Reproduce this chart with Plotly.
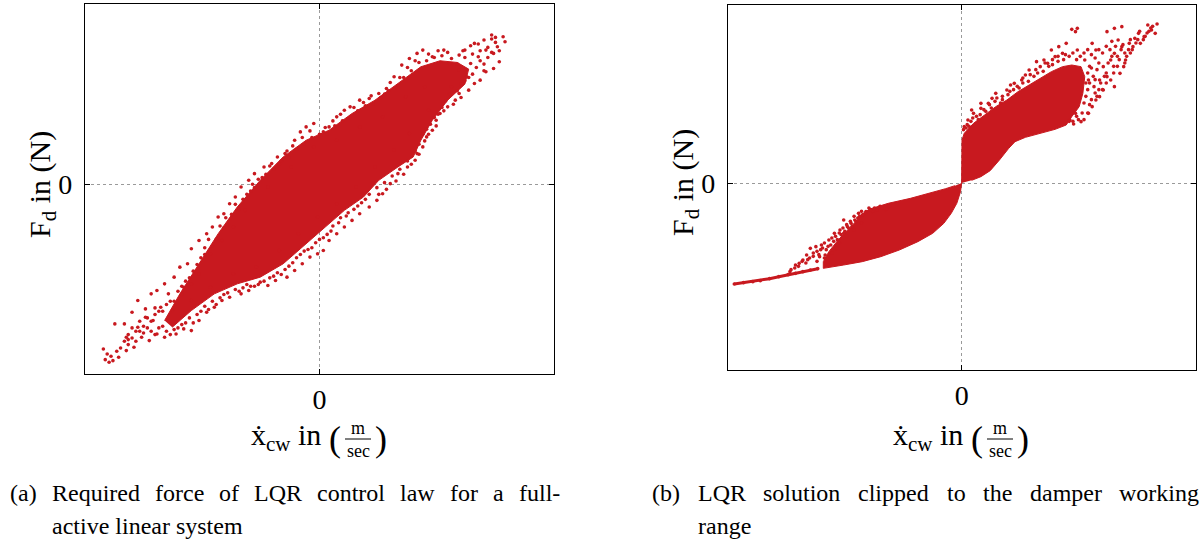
import plotly.graph_objects as go

# ---------------------------------------------------------------------------
# Data: damper velocity x_cw (m/s) against damper force F_d (N)
# ---------------------------------------------------------------------------

# (a) full-active LQR force: dense core outline of the point cloud
lqr_core_v = [-0.405, -0.365, -0.315, -0.265, -0.215, -0.155, -0.095, -0.035, 0.025, 0.085,
              0.145, 0.205, 0.265, 0.315, 0.360, 0.390, 0.380, 0.335, 0.295, 0.265,
              0.245, 0.205, 0.155, 0.115, 0.065, 0.015, -0.035, -0.095, -0.155, -0.215,
              -0.275, -0.335, -0.385]
lqr_core_f = [-816, -656, -476, -296, -136, 24, 164, 264, 324, 424,
              504, 604, 704, 740, 730, 690, 600, 504, 384, 264,
              164, 104, 24, -76, -156, -256, -356, -476, -556, -596,
              -656, -756, -856]

# (a) individual samples around the core
lqr_pts_v = [-0.565, -0.550, -0.535, -0.510, -0.490, -0.475, -0.455, -0.440, -0.425, -0.405,
             -0.395, -0.380, -0.365, -0.345, -0.335, -0.315, -0.295, -0.280, -0.265, -0.250,
             -0.235, -0.220, -0.205, -0.185, -0.170, -0.145, -0.125, -0.110, -0.090, -0.065,
             -0.050, -0.035, -0.015, 0.010, 0.025, 0.045, 0.065, 0.080, 0.105, 0.130,
             0.155, 0.175, 0.195, 0.215, 0.235, 0.255, 0.270, 0.295, 0.325, 0.345,
             0.365, 0.380, 0.405, 0.430, 0.450, 0.480, 0.485, 0.465, 0.455, 0.470,
             0.455, 0.435, 0.420, 0.405, 0.390, 0.365, 0.355, 0.335, 0.315, 0.305,
             0.295, 0.280, 0.270, 0.255, 0.250, 0.230, 0.205, 0.185, 0.165, 0.150,
             0.130, 0.105, 0.085, 0.065, 0.045, 0.025, 0.010, -0.005, -0.025, -0.045,
             -0.065, -0.085, -0.115, -0.135, -0.155, -0.185, -0.205, -0.235, -0.255, -0.275,
             -0.295, -0.315, -0.335, -0.355, -0.375, -0.405, -0.425, -0.445, -0.465, -0.485,
             -0.505, -0.525, -0.540, -0.555,
             -0.355, -0.335, -0.315, -0.285, -0.255, -0.225, -0.195, -0.135, -0.075, -0.015,
             0.045, 0.105, 0.165, 0.225, 0.275, 0.365, 0.395, 0.415, 0.435, 0.385,
             0.345, 0.285, 0.235, 0.195, 0.145, 0.095, 0.045, -0.005, -0.055, -0.105,
             -0.165, -0.225, -0.285, -0.335, -0.385, -0.435, -0.475, -0.505, -0.415, -0.455,
             -0.42, -0.40, -0.38, -0.36, -0.34, -0.33, -0.31, -0.30, -0.28, -0.27,
             -0.25, -0.24, -0.23, -0.21, -0.20, -0.18, -0.17, -0.16, -0.14, -0.12,
             -0.10, -0.08, -0.06, -0.04, -0.02, 0.00, 0.02, 0.04, 0.06, 0.08,
             0.10, 0.12, 0.14, 0.16, 0.18, 0.20, 0.22, 0.24, 0.26, 0.28,
             0.30, 0.32, 0.34, 0.36, 0.38, 0.40, 0.42, 0.44, 0.46, 0.47,
             0.44, 0.43, 0.41, 0.40, 0.38, 0.37, 0.36, 0.34, 0.33, 0.32,
             0.31, 0.30, 0.29, 0.28, 0.27, 0.26, 0.25, 0.23, 0.21, 0.19,
             0.17, 0.15, 0.13, 0.11, 0.09, 0.07, 0.05, 0.03, 0.01, -0.01,
             -0.03, -0.05, -0.07, -0.09, -0.11, -0.13, -0.16, -0.18, -0.20, -0.22,
             -0.24, -0.26, -0.28, -0.30, -0.32, -0.34, -0.36, -0.38, -0.40, -0.42,
             -0.44, -0.46, -0.48, -0.50, -0.52, -0.47, -0.49, -0.50, -0.45, -0.43,
             -0.50, -0.48, -0.46, -0.44, -0.43, -0.41, -0.39, -0.37, -0.36, -0.35,
             -0.32, -0.30, -0.29, -0.26, -0.245, -0.22, -0.19, -0.175, -0.15, -0.13,
             -0.105, -0.085, -0.07, -0.045, -0.025, 0.015, 0.035, 0.055, 0.09, 0.115,
             0.135, 0.17, 0.185, 0.21, 0.23, 0.25, 0.285, 0.31, 0.335, 0.375,
             0.395, 0.415, 0.45, 0.46,
             0.45, 0.43, 0.42, 0.39, 0.37, 0.35, 0.325, 0.305, 0.285, 0.275,
             0.26, 0.24, 0.22, 0.20, 0.175, 0.155, 0.12, 0.10, 0.075, 0.055,
             0.035, 0.02, 0.00, -0.02, -0.04, -0.06, -0.08, -0.10, -0.12, -0.145,
             -0.17, -0.19, -0.21, -0.25, -0.27, -0.29, -0.31, -0.33, -0.35, -0.37,
             -0.39, -0.41, -0.43, -0.45, -0.47, -0.49, -0.51, -0.53, -0.545, -0.56]
lqr_pts_f = [-986, -1066, -836, -836, -766, -696, -746, -656, -636, -596,
             -656, -556, -496, -476, -386, -336, -296, -256, -196, -176,
             -116, -76, -16, 24, 64, 104, 124, 164, 184, 264,
             314, 344, 364, 314, 344, 404, 444, 464, 504, 514,
             544, 574, 644, 714, 754, 784, 804, 764, 804, 754,
             774, 804, 844, 864, 894, 884, 854, 824, 784, 734,
             694, 674, 624, 604, 564, 544, 504, 464, 424, 384,
             324, 284, 224, 184, 144, 104, 64, 4, -56, -96,
             -136, -176, -216, -256, -296, -336, -396, -416, -436, -476,
             -516, -556, -576, -606, -586, -636, -656, -676, -696, -736,
             -766, -816, -876, -866, -896, -916, -896, -936, -916, -976,
             -996, -1036, -1056, -1016,
             -616, -596, -536, -416, -336, -256, -156, -16, 104, 224,
             264, 344, 404, 524, 584, 684, 724, 764, 804, 644,
             584, 444, 304, 204, 104, -16, -116, -196, -296, -396,
             -496, -536, -616, -696, -756, -816, -856, -916, -736, -796,
             -760, -720, -700, -610, -560, -520, -440, -420, -370, -330,
             -260, -240, -180, -150, -90, -40, -20, 30, 60, 90,
             140, 160, 210, 240, 280, 300, 300, 350, 380, 400,
             440, 470, 480, 520, 560, 580, 640, 680, 730, 740,
             760, 770, 720, 720, 760, 780, 800, 820, 850, 800,
             760, 720, 700, 660, 620, 600, 560, 540, 500, 460,
             420, 400, 360, 330, 300, 240, 200, 140, 90, 50,
             10, -20, -60, -110, -150, -190, -230, -280, -320, -350,
             -390, -420, -470, -510, -530, -560, -600, -610, -620, -630,
             -650, -680, -700, -730, -780, -800, -840, -870, -880, -860,
             -880, -890, -940, -960, -980, -820, -860, -900, -800, -780,
             -930, -880, -850, -820, -740, -760, -700, -640, -660, -580,
             -480, -380, -330, -250, -200, -120, -60, 0, 40, 110,
             120, 200, 230, 280, 320, 340, 380, 420, 460, 490,
             530, 540, 610, 640, 700, 740, 780, 800, 790, 800,
             830, 840, 870, 880,
             790, 680, 740, 640, 520, 480, 440, 350, 300, 260,
             180, 120, 60, 20, -30, -60, -90, -130, -170, -200,
             -250, -300, -330, -380, -400, -440, -490, -540, -550, -580,
             -610, -600, -640, -660, -720, -750, -760, -830, -830, -860,
             -900, -850, -900, -860, -880, -920, -940, -1000, -1030, -1050]

# (b) clipped LQR force: saturated tail at large negative velocity
clip_tail_v = [-0.613, -0.588, -0.563, -0.543, -0.518, -0.493, -0.468, -0.448, -0.428, -0.408, -0.388]
clip_tail_f = [-606, -598, -592, -586, -574, -562, -550, -542, -532, -522, -514]

# (b) rebound lobe (negative velocity) outline
clip_neg_v = [0.0, -0.003, -0.013, -0.028, -0.048, -0.078, -0.118, -0.168, -0.218, -0.268,
              -0.318, -0.373, -0.373, -0.358, -0.333, -0.303, -0.273, -0.250, -0.198, -0.138,
              -0.078, -0.043, -0.018]
clip_neg_f = [0, -52, -122, -182, -242, -302, -352, -402, -442, -472,
              -492, -512, -472, -412, -342, -272, -202, -158, -122, -92,
              -58, -34, -16]

# (b) compression lobe (positive velocity) outline
clip_pos_v = [0.0, 0.0, 0.001, 0.007, 0.032, 0.062, 0.092, 0.122, 0.152, 0.182,
              0.212, 0.242, 0.272, 0.297, 0.322, 0.332, 0.327, 0.317, 0.297, 0.282,
              0.252, 0.212, 0.172, 0.144, 0.127, 0.102, 0.077, 0.052, 0.027]
clip_pos_f = [0, 138, 258, 298, 358, 408, 458, 498, 548, 588,
              628, 668, 698, 708, 698, 638, 538, 458, 398, 348,
              322, 298, 274, 248, 208, 138, 74, 38, 16]

# (b) individual samples around both lobes
clip_pts_v = [0.297, 0.307, 0.312, 0.392, 0.412, 0.432, 0.502, 0.527, 0.522, 0.492,
              0.467, 0.452, 0.432, 0.412, 0.437, 0.427, 0.402, 0.412, 0.382, 0.362,
              0.352, 0.342, 0.322, 0.302, 0.272, 0.262, 0.242, 0.222, 0.212, 0.182,
              0.162, 0.142, 0.122, 0.092, 0.072, 0.052, 0.032, 0.017, 0.007, 0.352,
              0.362, 0.332, 0.382, 0.392, 0.462, 0.482, 0.442, 0.372, 0.202, 0.282,
              0.312, 0.342, 0.357, 0.372, 0.422, 0.512, 0.477, 0.402, 0.307, 0.292,
              0.052, 0.027, 0.082, 0.132, 0.172, 0.232, 0.252,
              0.005, 0.015, 0.020, 0.030, 0.045, 0.050, 0.065, 0.080, 0.090, 0.105,
              0.110, 0.125, 0.140, 0.155, 0.165, 0.180, 0.195, 0.205, 0.220, 0.235,
              0.245, 0.260, 0.275, 0.290, 0.300, 0.310, 0.320, 0.330, 0.340, 0.350,
              0.360, 0.370, 0.350, 0.340, 0.355, 0.365, 0.345, 0.340, 0.335, 0.330,
              0.345, 0.360, 0.375, 0.390, 0.410, 0.420, 0.440, 0.450, 0.470, 0.490,
              0.500, 0.510, 0.480, 0.455, 0.415, 0.400, 0.380, 0.325, 0.310, 0.290,
              0.335, 0.345, 0.360, 0.370, 0.385, 0.395, 0.405, 0.425, 0.430, 0.445,
              0.460, 0.475, 0.495, 0.505, 0.515, 0.340, 0.330, 0.315, 0.300, 0.350,
              0.365, 0.380, 0.390, 0.410, 0.420, 0.440, 0.455, 0.435, 0.405, 0.390,
              0.370, 0.280, 0.260, 0.245, 0.225, 0.200, 0.185, 0.165, 0.150, 0.130,
              0.110, 0.095, 0.075, 0.060, 0.040, 0.025, 0.012,
              -0.463, -0.448, -0.428, -0.408, -0.393, -0.378, -0.358, -0.343, -0.328, -0.308,
              -0.288, -0.268, -0.258, -0.228, -0.203, -0.438, -0.368, -0.353, -0.318, -0.298,
              -0.278, -0.338, -0.383, -0.418, -0.318,
              -0.45, -0.44, -0.42, -0.41, -0.40, -0.39, -0.38, -0.37, -0.36, -0.35,
              -0.34, -0.33, -0.32, -0.31, -0.30, -0.29, -0.28, -0.27, -0.26, -0.25,
              -0.24, -0.22, -0.21, -0.35, -0.33, -0.31, -0.29, -0.27, -0.37, -0.39,
              -0.46, -0.43, -0.415, -0.40, -0.385, -0.375, -0.365, -0.345, -0.335, -0.325,
              -0.315, -0.305, -0.295, -0.285, -0.275, -0.265, -0.245, -0.235, -0.215, -0.195]
clip_pts_f = [922, 908, 928, 908, 928, 938, 948, 954, 898, 878,
              868, 838, 818, 778, 698, 658, 618, 578, 558, 498,
              458, 418, 368, 354, 778, 818, 798, 738, 698, 678,
              618, 598, 558, 538, 478, 448, 418, 378, 338, 838,
              798, 738, 698, 638, 818, 838, 738, 518, 728, 838,
              798, 618, 578, 618, 858, 918, 898, 738, 418, 378,
              478, 438, 508, 588, 648, 718, 758,
              320, 350, 340, 390, 380, 410, 430, 450, 490, 480,
              520, 530, 560, 570, 600, 610, 640, 660, 670, 700,
              710, 730, 740, 760, 780, 740, 760, 780, 800, 770,
              750, 720, 690, 660, 640, 680, 600, 560, 520, 480,
              470, 540, 600, 660, 700, 760, 780, 800, 840, 860,
              900, 930, 910, 860, 820, 800, 780, 420, 400, 370,
              600, 700, 620, 560, 640, 720, 760, 740, 800, 760,
              800, 860, 880, 910, 940, 420, 380, 380, 370, 500,
              520, 560, 600, 660, 700, 720, 780, 830, 850, 820,
              800, 770, 760, 740, 720, 680, 650, 630, 580, 550,
              500, 510, 470, 440, 400, 370, 330,
              -532, -492, -462, -392, -382, -372, -342, -302, -282, -262,
              -222, -192, -172, -162, -158, -482, -432, -372, -302, -242,
              -182, -392, -442, -432, -222,
              -510, -500, -480, -450, -420, -410, -400, -360, -380, -330,
              -320, -300, -270, -250, -230, -200, -210, -170, -180, -150,
              -170, -140, -150, -420, -360, -320, -280, -240, -450, -470,
              -520, -470, -460, -440, -430, -390, -400, -350, -340, -310,
              -290, -270, -260, -230, -200, -190, -160, -150, -150, -140]

zero_tick = [0]
zero_label = ["0"]

# ---------------------------------------------------------------------------
# Styling / layout helpers
# ---------------------------------------------------------------------------
W, H = 1204, 545
RED = "#C8191F"
SERIF = "Liberation Serif"


def px(x):
    return x / W


def py(y):
    return 1 - y / H


fig = go.Figure()


def solid(v, f, xa, ya):
    fig.add_trace(go.Scatter(x=v, y=f, mode="lines", fill="toself",
                             fillcolor=RED, line=dict(color=RED, width=1),
                             xaxis=xa, yaxis=ya, hoverinfo="skip", showlegend=False))


def dots(v, f, xa, ya):
    fig.add_trace(go.Scatter(x=v, y=f, mode="markers",
                             marker=dict(color=RED, size=3.6, line=dict(width=0)),
                             xaxis=xa, yaxis=ya, showlegend=False))


solid(lqr_core_v, lqr_core_f, "x", "y")
dots(lqr_pts_v, lqr_pts_f, "x", "y")

fig.add_trace(go.Scatter(x=clip_tail_v, y=clip_tail_f, mode="lines+markers",
                         line=dict(color=RED, width=3), marker=dict(color=RED, size=3.6),
                         xaxis="x2", yaxis="y2", showlegend=False))
solid(clip_neg_v, clip_neg_f, "x2", "y2")
solid(clip_pos_v, clip_pos_f, "x2", "y2")
dots(clip_pts_v, clip_pts_f, "x2", "y2")

axis_common = dict(
    showline=True, linecolor="black", linewidth=1.4, mirror="ticks",
    ticks="inside", ticklen=5, tickwidth=1, tickcolor="black",
    tickvals=zero_tick, ticktext=zero_label,
    tickfont=dict(family=SERIF, size=28, color="black"),
    showgrid=True, gridcolor="#9a9a9a", gridwidth=1, griddash="dot",
    zeroline=False, fixedrange=True,
)

fig.update_layout(
    width=W, height=H,
    margin=dict(l=0, r=0, t=0, b=0),
    paper_bgcolor="white", plot_bgcolor="white",
    font=dict(family=SERIF),
    xaxis=dict(domain=[px(85), px(554)], range=[-0.613, 0.613], anchor="y",
               ticklabelstandoff=0, **axis_common),
    yaxis=dict(domain=[py(374), py(4)], range=[-1136, 1080], anchor="x",
               ticklabelstandoff=6, **axis_common),
    xaxis2=dict(domain=[px(728), px(1196)], range=[-0.630, 0.632], anchor="y2",
                ticklabelstandoff=0, **axis_common),
    yaxis2=dict(domain=[py(370), py(5)], range=[-1122, 1068], anchor="x2",
                ticklabelstandoff=6, **axis_common),
)

ann = []


def text(x, y, s, size, xanchor="center", yanchor="middle", angle=0):
    ann.append(dict(x=px(x), y=py(y), xref="paper", yref="paper", text=s,
                    showarrow=False, xanchor=xanchor, yanchor=yanchor, textangle=angle,
                    font=dict(family=SERIF, size=size, color="black")))


shapes = []


def axis_titles(cx, ycx, cy):
    # vertical title
    text(ycx, cy, "F<sub>d</sub> in (N)", 30, angle=-90)
    # horizontal title with a stacked unit fraction
    text(cx + 3, 437, "ẋ<sub>cw</sub> in", 30, xanchor="right")
    text(cx + 15, 439, "(", 36)
    text(cx + 38, 428, "m", 18)
    text(cx + 38, 451, "sec", 18)
    text(cx + 61, 439, ")", 36)
    shapes.append(dict(type="line", xref="paper", yref="paper",
                       x0=px(cx + 25), x1=px(cx + 51), y0=py(439), y1=py(439),
                       line=dict(color="black", width=1)))


axis_titles(320, 42, 185)
axis_titles(962, 685, 183)

# captions, laid out word by word as a justified paragraph
cap_a1 = ["(a)", "Required", "force", "of", "LQR", "control", "law", "for", "a", "full-"]
cap_a1_x = [8, 50, 153, 217, 252, 315, 398, 448, 491, 517]
cap_b1 = ["(b)", "LQR", "solution", "clipped", "to", "the", "damper", "working"]
cap_b1_x = [650, 696, 761, 856, 945, 981, 1028, 1117]
for w, x in zip(cap_a1, cap_a1_x):
    text(x, 493, w, 24, xanchor="left")
for w, x in zip(cap_b1, cap_b1_x):
    text(x, 493, w, 24, xanchor="left")
text(50, 526, "active linear system", 24, xanchor="left")
text(696, 526, "range", 24, xanchor="left")

fig.update_layout(annotations=ann, shapes=shapes)

fig.write_html("out.html")
